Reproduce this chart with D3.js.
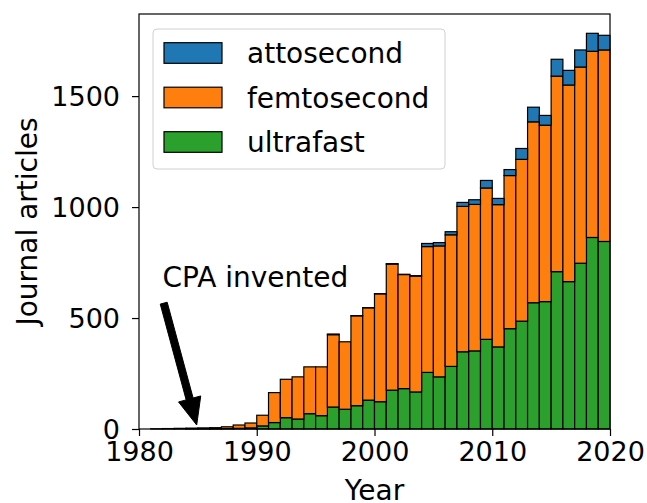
<!DOCTYPE html>
<html>
<head>
<meta charset="utf-8">
<script src="https://cdn.jsdelivr.net/npm/d3@7"></script>
<style>
	body { margin: 0; background: #fff; }
	svg { display: block; font-family: "DejaVu Sans", sans-serif; }
	.bar { stroke: #000; stroke-width: 1.2; }
	.axis text { fill: #000; font-size: 27px; }
	.axis line, .axis path { stroke: #000; stroke-width: 1.2; }
</style>
</head>
<body>
<div id="chart"></div>
<script>
const years = d3.range(1981, 2020);
const ultrafast = [0, 0, 0, 1, 1, 1, 2, 3, 5,
	14, 29, 51, 45, 69, 60, 99, 89, 105, 130,
	123, 175, 182, 167, 255, 235, 282, 348, 352, 404,
	370, 452, 486, 569, 574, 709, 664, 747, 863, 845];
const femtosecond = [1, 2, 3, 3, 4, 5, 8, 15, 22,
	48, 135, 173, 190, 211, 220, 326, 304, 405, 416,
	486, 568, 514, 522, 567, 590, 593, 655, 660, 682,
	641, 690, 729, 815, 795, 881, 886, 884, 839, 863];
const attosecond = [0, 0, 0, 0, 0, 0, 0, 0, 0,
	0, 0, 0, 0, 0, 0, 3, 0, 1, 1,
	1, 2, 1, 2, 14, 15, 14, 18, 21, 34,
	28, 27, 49, 66, 44, 76, 66, 77, 81, 66];
const seriesNames = ['ultrafast', 'femtosecond', 'attosecond'];
const legendOrder = ['attosecond', 'femtosecond', 'ultrafast'];
const colors = { ultrafast: '#2ca02c', femtosecond: '#ff7f0e', attosecond: '#1f77b4' };
const xTicks = [1980, 1990, 2000, 2010, 2020];
const yTicks = [0, 500, 1000, 1500];
const annotation = { label: 'CPA invented', textAt: [1982, 642], from: [1982.1, 567], to: [1984.9, 18] };

const width = 647, height = 503;
const plot = { left: 139, right: 610, top: 14, bottom: 429 };

const table = years.map((year, i) => ({
	year,
	ultrafast: ultrafast[i],
	femtosecond: femtosecond[i],
	attosecond: attosecond[i]
}));

const svg = d3.select('#chart').append('svg')
	.attr('width', width)
	.attr('height', height);

const x = d3.scaleLinear().domain([1980, 2020]).range([plot.left, plot.right]);
const y = d3.scaleLinear().domain([0, 1870]).range([plot.bottom, plot.top]);

const stacked = d3.stack().keys(seriesNames)(table);

svg.append('g')
	.selectAll('g')
	.data(stacked)
	.join('g')
		.attr('fill', d => colors[d.key])
	.selectAll('rect')
	.data(d => d)
	.join('rect')
		.attr('class', 'bar')
		.attr('x', d => x(d.data.year))
		.attr('width', d => x(d.data.year + 1) - x(d.data.year))
		.attr('y', d => y(d[1]))
		.attr('height', d => Math.max(0, y(d[0]) - y(d[1])));

// frame
svg.append('rect')
	.attr('x', plot.left).attr('y', plot.top)
	.attr('width', plot.right - plot.left).attr('height', plot.bottom - plot.top)
	.attr('fill', 'none')
	.attr('stroke', '#000')
	.attr('stroke-width', 1.2);

svg.append('g')
	.attr('class', 'axis x')
	.attr('transform', `translate(0, ${plot.bottom})`)
	.call(d3.axisBottom(x).tickValues(xTicks).tickFormat(d3.format('d')).tickSize(7).tickPadding(6))
	.call(g => g.select('.domain').remove());

svg.append('g')
	.attr('class', 'axis y')
	.attr('transform', `translate(${plot.left}, 0)`)
	.call(d3.axisLeft(y).tickValues(yTicks).tickFormat(d3.format('d')).tickSize(7).tickPadding(12))
	.call(g => g.select('.domain').remove());

svg.selectAll('.axis').attr('font-family', null).attr('font-size', null);
svg.selectAll('.axis.y text').attr('dy', '0.36em');

svg.append('text')
	.attr('x', (plot.left + plot.right) / 2)
	.attr('y', 500)
	.attr('text-anchor', 'middle')
	.attr('font-size', 28)
	.text('Year');

svg.append('text')
	.attr('transform', `translate(37, ${(plot.top + plot.bottom) / 2}) rotate(-90)`)
	.attr('text-anchor', 'middle')
	.attr('font-size', 28)
	.text('Journal articles');

// annotation
svg.append('text')
	.attr('x', x(annotation.textAt[0]))
	.attr('y', y(annotation.textAt[1]))
	.attr('font-size', 28)
	.text(annotation.label);

const ax0 = x(annotation.from[0]), ay0 = y(annotation.from[1]);
const ax1 = x(annotation.to[0]), ay1 = y(annotation.to[1]);
const len = Math.hypot(ax1 - ax0, ay1 - ay0);
const ux = (ax1 - ax0) / len, uy = (ay1 - ay0) / len;
const px = -uy, py = ux;
const shaft = 3.6, head = 11.5, headLen = 27;
const bx = ax1 - ux * headLen, by = ay1 - uy * headLen;
const arrowPts = [
	[ax0 + px * shaft, ay0 + py * shaft],
	[bx + px * shaft, by + py * shaft],
	[bx + px * head, by + py * head],
	[ax1, ay1],
	[bx - px * head, by - py * head],
	[bx - px * shaft, by - py * shaft],
	[ax0 - px * shaft, ay0 - py * shaft]
];
svg.append('path')
	.attr('d', d3.line()(arrowPts) + 'Z')
	.attr('fill', '#000')
	.attr('stroke', '#000')
	.attr('stroke-width', 1);

// legend
const legend = svg.append('g');
legend.append('rect')
	.attr('x', 153).attr('y', 29)
	.attr('width', 292).attr('height', 140)
	.attr('rx', 4)
	.attr('fill', '#fff')
	.attr('fill-opacity', 0.8)
	.attr('stroke', '#d0d0d0')
	.attr('stroke-width', 1);

const rows = legend.selectAll('g.item')
	.data(legendOrder)
	.join('g')
		.attr('class', 'item')
		.attr('transform', (d, i) => `translate(164, ${53 + i * 44.5})`);
rows.append('rect')
	.attr('x', 0).attr('y', -10.3)
	.attr('width', 58).attr('height', 20.6)
	.attr('fill', d => colors[d])
	.attr('stroke', '#000')
	.attr('stroke-width', 1.2);
rows.append('text')
	.attr('x', 83)
	.attr('y', 10)
	.attr('font-size', 28)
	.text(d => d);
</script>
</body>
</html>
